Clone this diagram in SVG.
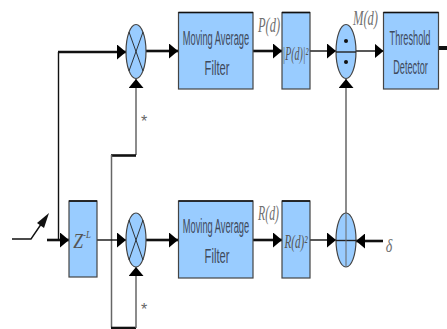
<svg xmlns="http://www.w3.org/2000/svg" width="447" height="329" viewBox="0 0 447 329">
<defs>
<marker id="a" markerUnits="userSpaceOnUse" markerWidth="10" markerHeight="15" refX="9" refY="7.500" orient="auto"><path d="M0 0L9 7.500L0 15Z" fill="#000"/></marker>
</defs>
<style>
.box{fill:#99ccff;stroke:#444;stroke-width:1.2}
.top{stroke:#111;stroke-width:1.6;fill:none}
.x{stroke:#222;stroke-width:.9;fill:none}
.w{stroke:#111;fill:none;stroke-width:2.6}
.t{stroke:#111;fill:none;stroke-width:1.4}
.g{stroke:#666;fill:none;stroke-width:1.5}
text{font-family:"Liberation Sans",Arial,sans-serif;font-size:20px;fill:#3f4a5c;text-anchor:middle}
.i{font-family:"Liberation Serif","Times New Roman",serif;font-style:italic;fill:#707070}
.n{fill:#555}
</style>
<g id="connectors">
<path class="t" d="M58.500 240V52"/>
<path class="w" d="M58 52H126" marker-end="url(#a)"/>
<path class="w" d="M146 51H178" marker-end="url(#a)"/>
<path class="g" d="M136 155V79" marker-end="url(#a)"/>
<path class="w" d="M111 155.500H136"/>
<path class="g" d="M111.500 155V327.500"/>
<path class="w" d="M111 328H136"/>
<path class="g" d="M136 328V267" marker-end="url(#a)"/>
<path class="t" d="M97 240H126" marker-end="url(#a)"/>
<path class="w" d="M146 240H178" marker-end="url(#a)"/>
<path class="w" d="M47 240H69" marker-end="url(#a)"/>
<path class="t" d="M12 239H31L46 217"/>
<path d="M49 213L37 223L44 228Z" fill="#111"/>
<path class="w" d="M253 51H282" marker-end="url(#a)"/>
<path class="t" d="M310 51H336" marker-end="url(#a)"/>
<path class="t" d="M356 51H383.500" marker-end="url(#a)"/>
<path class="g" d="M346 213V79" marker-end="url(#a)"/>
<path class="w" d="M253 240H282" marker-end="url(#a)"/>
<path class="t" d="M310 240H336" marker-end="url(#a)"/>
<path class="w" d="M383 241H356" marker-end="url(#a)"/>
<path d="M438.500 48H447" stroke="#111" stroke-width="4" fill="none"/>
</g>
<g id="mult-top"><ellipse class="box" cx="136" cy="51.500" rx="10" ry="27"/><path class="x" d="M129 32L143 71M143 32L129 71"/></g>
<g id="maf-top"><rect class="box" x="178.500" y="12.500" width="74.500" height="76.500"/><path class="top" d="M178.500 12.500H253"/><text transform="translate(216 45) scale(.464 1)">Moving Average</text><text transform="translate(217 75) scale(.56 1)">Filter</text></g>
<g id="p-label"><text class="i" transform="translate(269 32) scale(.59 1)" style="font-size:21px">P(d)</text></g>
<g id="power-top"><rect class="box" x="282" y="12.500" width="28" height="76.500"/><path class="top" d="M282 12.500H310"/><text class="i n" transform="translate(295.500 60) scale(.55 1)" style="font-size:18px">|P(d)|²</text></g>
<g id="divider"><ellipse class="box" cx="346" cy="51.500" rx="10" ry="27"/><path class="x" d="M336 52H356" style="stroke-width:1.4"/><circle cx="346" cy="41" r="2" fill="#111"/><circle cx="346" cy="62" r="2" fill="#111"/></g>
<g id="m-label"><text class="i" transform="translate(365.500 25) scale(.57 1)" style="font-size:22px">M(d)</text></g>
<g id="threshold"><rect class="box" x="383.500" y="12.500" width="55" height="76.500"/><path class="top" d="M383.500 12.500H438.500"/><text transform="translate(410 45) scale(.46 1)">Threshold</text><text transform="translate(410.500 74) scale(.46 1)">Detector</text></g>
<g id="delay"><rect class="box" x="69" y="201" width="28" height="76"/><path class="top" d="M69 201H97"/><text class="i n" transform="translate(82 248) scale(.8 1)" style="font-size:22px">Z<tspan dy="-10" style="font-size:11px">-L</tspan></text></g>
<g id="mult-bottom"><ellipse class="box" cx="136" cy="240" rx="10" ry="27"/><path class="x" d="M129 220L143 260M143 220L129 260"/></g>
<g id="maf-bottom"><rect class="box" x="178.500" y="201" width="74.500" height="77"/><path class="top" d="M178.500 201H253"/><text transform="translate(216 233) scale(.464 1)">Moving Average</text><text transform="translate(217 263) scale(.56 1)">Filter</text></g>
<g id="r-label"><text class="i" transform="translate(268.500 220) scale(.56 1)" style="font-size:21px">R(d)</text></g>
<g id="power-bottom"><rect class="box" x="282" y="201" width="28" height="77"/><path class="top" d="M282 201H310"/><text class="i n" transform="translate(296 248) scale(.62 1)" style="font-size:18px">R(d)²</text></g>
<g id="adder"><ellipse class="box" cx="346" cy="240" rx="10" ry="27"/><path class="x" d="M336 240.500H356" style="stroke-width:1.4"/><path class="g" d="M346 213V267" style="stroke-width:1"/></g>
<text class="i" transform="translate(389 252) scale(.78 1)" style="font-size:18px">δ</text>
<text x="144" y="127" style="font-size:16px;fill:#666">*</text>
<text x="144" y="315" style="font-size:16px;fill:#666">*</text>
</svg>
